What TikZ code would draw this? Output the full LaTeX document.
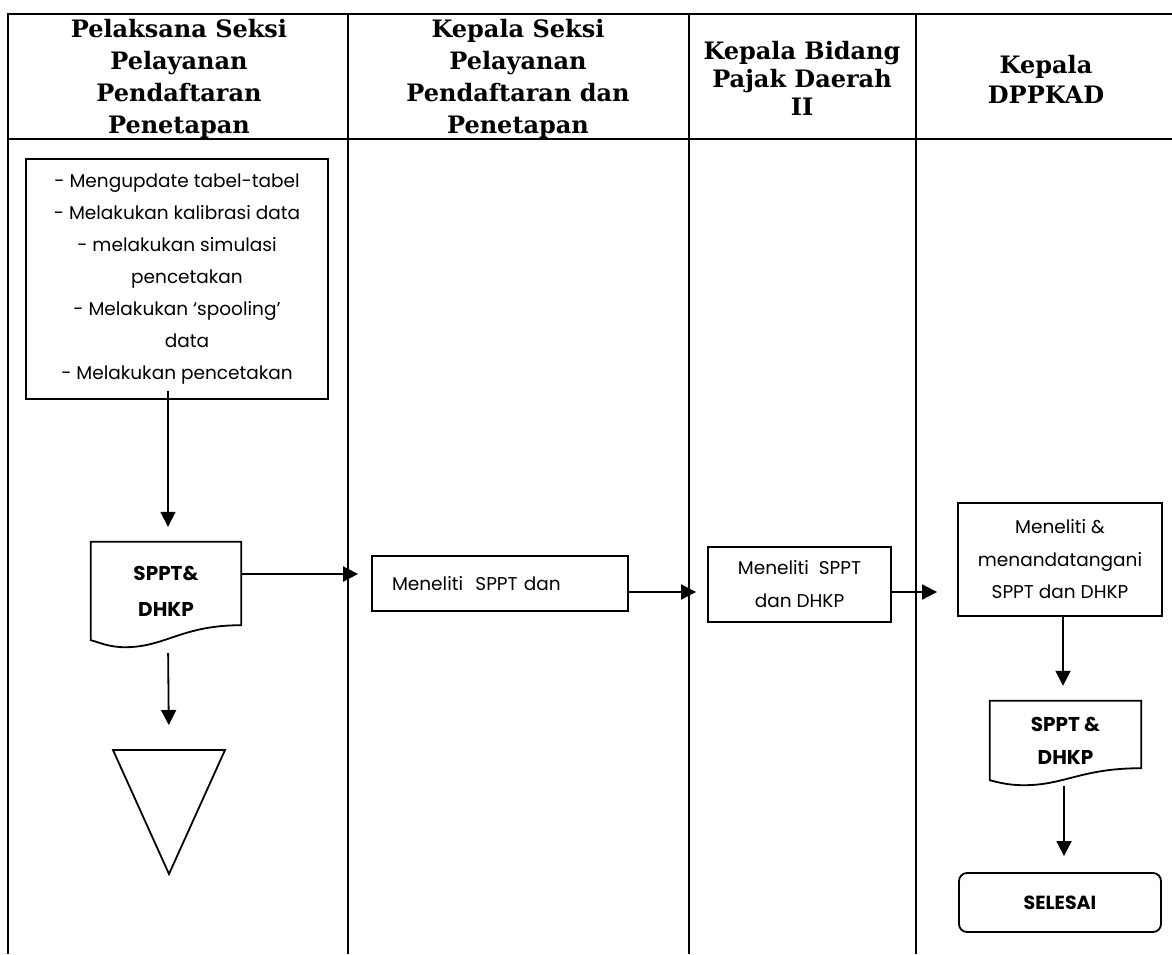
\documentclass[tikz,border=0pt]{standalone}
\usepackage{fontspec}
\setmainfont{Poppins}
\newfontfamily\headfont{DejaVu Serif}
\usepackage{tikz}
\usetikzlibrary{arrows.meta, shapes.geometric}
\tikzstyle{head} = [align=center, inner sep=0pt, font=\headfont\bfseries\fontsize{24}{32}\selectfont]
\tikzstyle{block} = [rectangle, draw=black, line width=1.8pt, align=center, font=\fontsize{18.5}{32}\selectfont]
\tikzstyle{docu} = [rectangle, align=center, font=\bfseries\fontsize{20}{36}\selectfont]
\tikzstyle{terminus} = [rectangle, rounded corners=8pt, draw=black, line width=1.8pt, font=\bfseries\fontsize{19}{22}\selectfont]
\tikzstyle{arrow} = [line width=1.8pt, -{Triangle[length=15pt,width=15pt]}]
\tikzstyle{lane} = [line width=2.2pt]
\newcommand{\docoutline}[3]{% node, rise of right corner, dip of wave
  \draw[line width=1.8pt] (#1.north west) -- (#1.north east) -- ([yshift=#2]#1.south east)
    .. controls ([xshift=-60pt,yshift=#2]#1.south east) and ([xshift=75pt,yshift=-#3]#1.south west) .. ([xshift=34pt,yshift=-#3]#1.south west)
    .. controls ([xshift=18pt,yshift=-#3]#1.south west) and ([xshift=8pt,yshift=-2pt]#1.south west) .. (#1.south west) -- cycle;}
\begin{document}
\begin{tikzpicture}[x=1pt, y=-1pt]
        \useasboundingbox (0,0) rectangle (1172,954);
        % swimlanes
        \draw [lane] (8,954) -- (8,14) -- (1172,14);
        \draw [lane] (8,139) -- (1172,139);
        \draw [lane] (348,14) -- (348,954);
        \draw [lane] (689,14) -- (689,954);
        \draw [lane] (916,14) -- (916,954);
        \node (h1) [head] at (179,79) {Pelaksana Seksi\\Pelayanan\\Pendaftaran\\Penetapan};
        \node (h2) [head] at (518,79) {Kepala Seksi\\Pelayanan\\Pendaftaran dan\\Penetapan};
        \node (h3) [head, font=\headfont\bfseries\fontsize{24}{28}\selectfont] at (802,78) {Kepala Bidang\\Pajak Daerah\\II};
        \node (h4) [head, font=\headfont\bfseries\fontsize{24}{30}\selectfont] at (1046,79) {Kepala\\DPPKAD};

        \node (box1) [block, minimum width=302pt, minimum height=240pt] at (177,279) {- Mengupdate tabel-tabel\\- Melakukan kalibrasi data\\- melakukan simulasi\\\hspace*{20pt}pencetakan\\- Melakukan `spooling'\\\hspace*{20pt}data\\- Melakukan pencetakan};
        \node (doc1) [docu, minimum width=150pt, minimum height=98pt] at (166,591) {SPPT\&\\DHKP};
        \coordinate (tri) at (169,750);
        \node (box2) [block, minimum width=256pt, minimum height=55pt, text width=216pt, inner xsep=20pt, align=left] at (500,583.5) {Meneliti\ \ SPPT dan};
        \node (box3) [block, minimum width=183pt, minimum height=75pt, font=\fontsize{18.5}{33}\selectfont] at (799.5,584.5) {Meneliti\ \ SPPT\\dan DHKP};
        \node (box4) [block, minimum width=204pt, minimum height=113pt, font=\fontsize{18.5}{32.5}\selectfont] at (1060,559.5) {Meneliti \&\\menandatangani\\SPPT dan DHKP};
        \node (doc2) [docu, minimum width=151pt, minimum height=79pt, font=\bfseries\fontsize{20}{33}\selectfont] at (1065.5,740.5) {SPPT \&\\DHKP};
        \node (end) [terminus, minimum width=202pt, minimum height=59pt] at (1060,902.5) {SELESAI};

        \docoutline{doc1}{15pt}{7pt}
        \docoutline{doc2}{12pt}{5pt}
        \draw [line width=1.8pt] ([xshift=-56pt]tri) -- ([xshift=56pt]tri) -- ([yshift=-124pt]tri) -- cycle;

        \draw [arrow, shorten <=-9pt, shorten >=15pt] ([xshift=2pt]doc1.north |- box1.south) -- ([xshift=2pt]doc1.north);
        \draw [arrow, shorten >=13pt] ([yshift=17pt]doc1.east) -- ([yshift=17pt]doc1.east -| box2.west);
        \draw [arrow, shorten <=13pt, shorten >=25pt] ([xshift=2pt]doc1.south) -- (tri);
        \draw [arrow, shorten >=11pt] ([yshift=-8.5pt]box2.east) -- ([yshift=-8.5pt]box2.east -| box3.west);
        \draw [arrow, shorten >=20pt] ([yshift=-7.5pt]box3.east) -- ([yshift=-7.5pt]box3.east -| box4.west);
        \draw [arrow, shorten >=15pt] ([xshift=3pt]box4.south) -- ([xshift=3pt]box4.south |- doc2.north);
        \draw [arrow, shorten <=6pt, shorten >=16pt] ([xshift=4pt]end.north |- doc2.south) -- ([xshift=4pt]end.north);
\end{tikzpicture}
\end{document}
